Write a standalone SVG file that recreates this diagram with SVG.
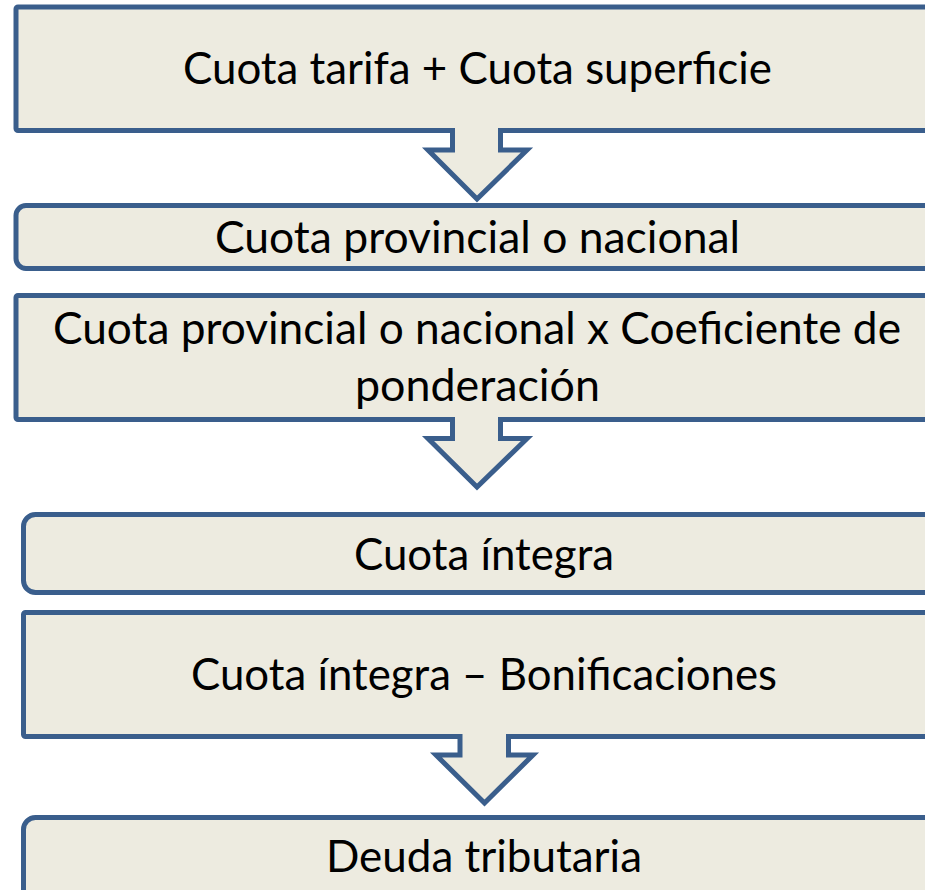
<svg xmlns="http://www.w3.org/2000/svg" width="925" height="890" viewBox="0 0 925 890">
<style>
.box{fill:#EDEBE0;stroke:#3A5E8C;stroke-width:5}
.af{fill:#EDEBE0;stroke:none}
.as{fill:none;stroke:#3A5E8C;stroke-width:5;stroke-linejoin:miter;stroke-linecap:square}
.t{font-family:Lato,"Open Sans","Liberation Sans",sans-serif;font-size:45px;fill:#000;text-anchor:middle}
</style>
<rect width="925" height="890" fill="#FFFFFF"/>
<g id="n1"><rect class="box" x="16" y="7" width="923" height="123.5" rx="2"/><text class="t" x="477.5" y="84" textLength="589" lengthAdjust="spacingAndGlyphs">Cuota tarifa + Cuota superficie</text></g>
<g id="n2"><rect class="box" x="16" y="205.5" width="923" height="63" rx="10"/><text class="t" x="477.5" y="253" textLength="525" lengthAdjust="spacingAndGlyphs">Cuota provincial o nacional</text></g>
<g id="n3"><rect class="box" x="16" y="295.5" width="923" height="124" rx="2"/><text class="t" x="477" y="344" textLength="848" lengthAdjust="spacingAndGlyphs">Cuota provincial o nacional x Coeficiente de</text><text class="t" x="477.5" y="401" textLength="245" lengthAdjust="spacingAndGlyphs">ponderación</text></g>
<g id="n4"><rect class="box" x="23.5" y="514.5" width="922" height="78" rx="12"/><text class="t" x="484" y="570" textLength="260" lengthAdjust="spacingAndGlyphs">Cuota íntegra</text></g>
<g id="n5"><rect class="box" x="23.5" y="612.5" width="922" height="124" rx="2"/><text class="t" x="484" y="690" textLength="586" lengthAdjust="spacingAndGlyphs">Cuota íntegra – Bonificaciones</text></g>
<g id="n6"><rect class="box" x="23.5" y="817.5" width="922" height="100" rx="12"/><text class="t" x="484" y="872" textLength="316" lengthAdjust="spacingAndGlyphs">Deuda tributaria</text></g>
<g id="connectors">
<path class="af" d="M452.5,125 V150 H428 L477,199 L527,150 H500.5 V125 Z"/>
<path class="as" d="M452.5,130.5 V150 H428 L477,199 L527,150 H500.5 V130.5"/>
<path class="af" d="M452.5,414 V438.5 H428 L477,487 L527,438.5 H500.5 V414 Z"/>
<path class="as" d="M452.5,419.5 V438.5 H428 L477,487 L527,438.5 H500.5 V419.5"/>
<path class="af" d="M460,731 V755 H436 L484.5,803 L533,755 H508.5 V731 Z"/>
<path class="as" d="M460,736.5 V755 H436 L484.5,803 L533,755 H508.5 V736.5"/>
</g>
</svg>
